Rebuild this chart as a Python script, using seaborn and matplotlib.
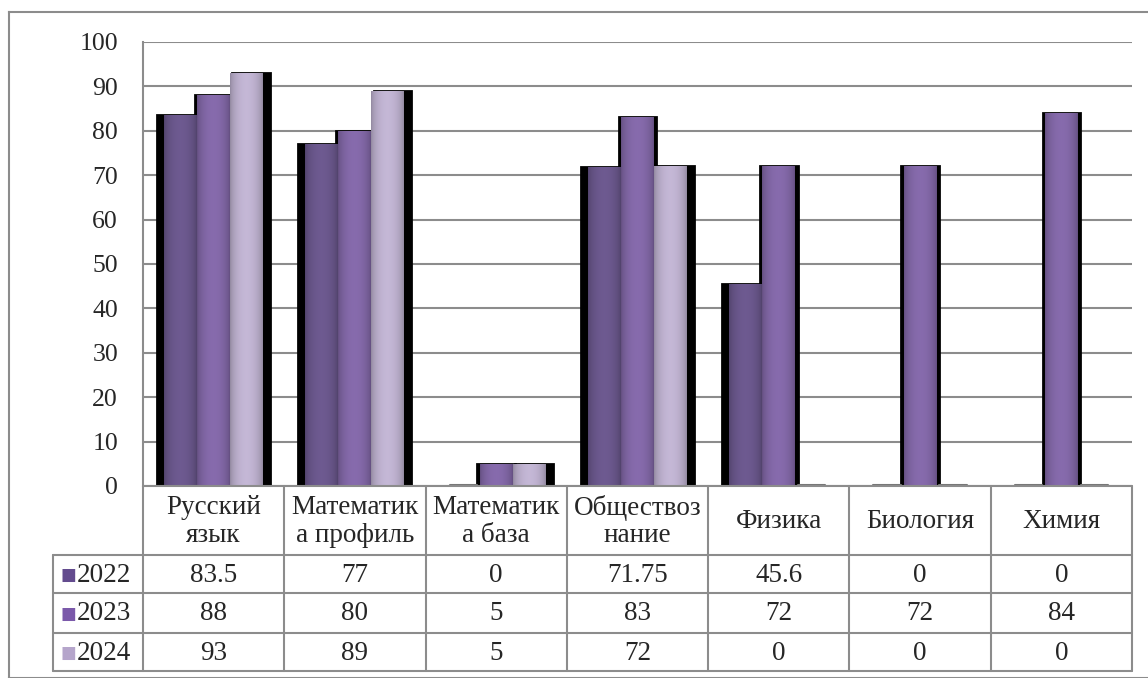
import numpy as np
import pandas as pd
import seaborn as sns
import matplotlib.pyplot as plt
from matplotlib.colors import to_rgb

# data
subjects = ["Русский\nязык", "Математик\nа профиль", "Математик\nа база",
            "Обществоз\nнание", "Физика", "Биология", "Химия"]
years = ["2022", "2023", "2024"]
v2022 = [83.5, 77, 0, 71.75, 45.6, 0, 0]
v2023 = [88, 80, 5, 83, 72, 72, 84]
v2024 = [93, 89, 5, 72, 0, 0, 0]
colors = ["#634b8e", "#7b59aa", "#b5a5cb"]

df = pd.DataFrame({
    "subject": subjects * 3,
    "year": [y for y in years for _ in subjects],
    "value": v2022 + v2023 + v2024,
})

W, H, DPI = 1148, 678, 100
fs = 18.5
tfs = 19.5
serif = ["Liberation Serif", "DejaVu Serif"]
grey = "#8c8c8c"

sns.set_style("white")
plt.rcParams["font.family"] = serif

fig = plt.figure(figsize=(W / DPI, H / DPI), dpi=DPI)

# outer chart frame (cropped on right/bottom)
frame = fig.add_axes([9 / W, 0, 1 - 9 / W + 0.01, 1 - 12 / H])
frame.set_xticks([])
frame.set_yticks([])
for s in frame.spines.values():
    s.set_color(grey)
    s.set_linewidth(1.5)
frame.patch.set_alpha(0)

# plot area (pixels)
pl, pr, pt, pb = 143, 1132, 42, 486
ax = fig.add_axes([pl / W, 1 - pb / H, (pr - pl) / W, (pb - pt) / H])

# black silhouette behind the bars (slightly wider groups)
sns.barplot(data=df, x="subject", y="value", hue="year", hue_order=years,
            palette=["black"] * 3, width=0.8, edgecolor="black", linewidth=2,
            legend=False, ax=ax, zorder=2)
n_shadow = len(ax.patches)
for p in ax.patches[:n_shadow]:
    if p.get_height() == 0:
        p.set_visible(False)

sns.barplot(data=df, x="subject", y="value", hue="year", hue_order=years,
            palette=colors, width=0.7, linewidth=0, legend=False, ax=ax, zorder=3)

# cylinder-like shading on the coloured bars
t = np.linspace(0, 1, 64)
shade = 0.8 + 0.28 * np.sin(np.pi * t) ** 0.6
for p in ax.patches[n_shadow:]:
    h = p.get_height()
    x0 = p.get_x()
    if h <= 0:
        ax.plot([x0 + 0.02, x0 + p.get_width() - 0.02], [0.15, 0.15],
                color="#777777", linewidth=1.5, zorder=4)
        continue
    c = np.array(to_rgb(p.get_facecolor()))
    img = np.clip(c[None, None, :] * shade[None, :, None], 0, 1)
    im = ax.imshow(img, extent=[x0, x0 + p.get_width(), 0, h], aspect="auto",
                   zorder=4, interpolation="bilinear")
    im.set_clip_path(p)

ax.set_xlim(-0.5, 6.5)
ax.set_ylim(0, 100)
ax.set_yticks(range(0, 101, 10))
ax.yaxis.grid(True, color=grey, linewidth=1.5)
ax.set_axisbelow(True)
ax.set_xticks([])
ax.set_xlabel("")
ax.set_ylabel("")
ax.tick_params(axis="y", length=0, pad=18, labelsize=fs)
for side in ["right", "bottom", "top"]:
    ax.spines[side].set_visible(False)
ax.spines["left"].set_color(grey)
ax.spines["left"].set_linewidth(1.5)

# data table under the chart
tl, tt, tb = 53, 486, 671
unit = (pr - pl) / 7.0
tab = fig.add_axes([tl / W, 1 - tb / H, (pr - tl) / W, (tb - tt) / H])
xl = -0.5 - (pl - tl) / unit
tab.set_xlim(xl, 6.5)
tab.set_ylim(tb - tt, 0)
tab.axis("off")

rows = [v2022, v2023, v2024]
hy = [0, 69, 107, 147, 185]
lk = dict(color=grey, linewidth=1.5, clip_on=False)
tab.plot([-0.5, 6.5], [0, 0], **lk)
for yy in hy[1:]:
    tab.plot([xl, 6.5], [yy, yy], **lk)
tab.plot([xl, xl], [hy[1], hy[-1]], **lk)
for i in range(8):
    tab.plot([i - 0.5, i - 0.5], [0, hy[-1]], **lk)

for i, name in enumerate(subjects):
    tab.text(i, hy[1] / 2 + 1, name, ha="center", va="center", fontsize=tfs,
             linespacing=1.15)
for r, (yr, vals, col) in enumerate(zip(years, rows, colors)):
    yc = (hy[r + 1] + hy[r + 2]) / 2
    tab.text(xl + 8 / unit, yc + 1, "■", color=col, ha="left", va="center",
             fontsize=12, family=["DejaVu Sans"])
    tab.text(xl + 24 / unit, yc + 1, yr, ha="left", va="center", fontsize=tfs)
    for i, v in enumerate(vals):
        tab.text(i, yc + 1, f"{v:g}", ha="center", va="center", fontsize=tfs)

fig.savefig("out.png", dpi=DPI)
